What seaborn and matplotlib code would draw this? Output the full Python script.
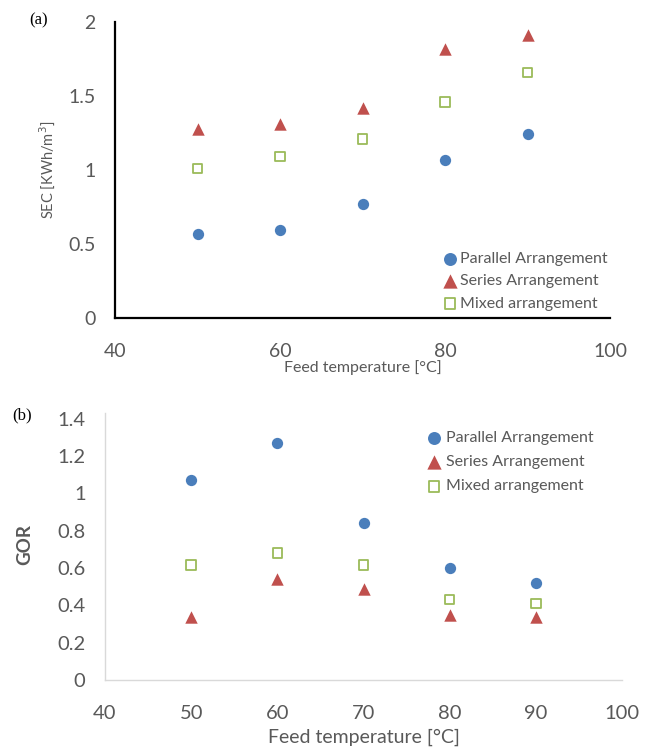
import matplotlib
matplotlib.use("Agg")
import matplotlib.pyplot as plt
import seaborn as sns
import pandas as pd

# ---- data ----
temps = [50, 60, 70, 80, 90]
series_names = ["Parallel Arrangement", "Series Arrangement", "Mixed arrangement"]

sec_parallel = [0.57, 0.595, 0.77, 1.07, 1.24]
sec_series = [1.28, 1.31, 1.42, 1.82, 1.91]
sec_mixed = [1.01, 1.09, 1.21, 1.46, 1.66]

gor_parallel = [1.07, 1.27, 0.84, 0.60, 0.52]
gor_series = [0.34, 0.54, 0.49, 0.35, 0.34]
gor_mixed = [0.615, 0.68, 0.615, 0.43, 0.41]

xticks_a = [40, 60, 80, 100]
yticks_a = [0, 0.5, 1, 1.5, 2]
xticks_b = [40, 50, 60, 70, 80, 90, 100]
yticks_b = [0, 0.2, 0.4, 0.6, 0.8, 1, 1.2, 1.4]

# ---- style ----
sns.set_theme(style="white")
plt.rcParams["font.family"] = ["Lato", "DejaVu Sans"]

BLUE = "#4A7EBB"
RED = "#C0504D"
GREEN = "#9BBB59"
GRAY = "#595959"

fig = plt.figure(figsize=(6.49, 7.47), dpi=100)
W, H = 649, 747

def axes_px(l, t, r, b):
    return fig.add_axes([l / W, 1 - b / H, (r - l) / W, (b - t) / H])

ax_a = axes_px(115, 22, 610, 318)
ax_b = axes_px(105, 413, 622, 680)

def draw(ax, vals):
    df = pd.DataFrame({"T": temps * 3,
                       "v": vals[0] + vals[1] + vals[2],
                       "s": [series_names[0]] * 5 + [series_names[1]] * 5 + [series_names[2]] * 5})
    d0 = df[df.s == series_names[0]]
    d1 = df[df.s == series_names[1]]
    d2 = df[df.s == series_names[2]]
    sns.scatterplot(data=d0, x="T", y="v", ax=ax, marker="o", s=66, color=BLUE,
                    edgecolor=BLUE, linewidth=0, label=series_names[0], zorder=3)
    sns.scatterplot(data=d1, x="T", y="v", ax=ax, marker="^", s=80, color=RED,
                    edgecolor=RED, linewidth=0, label=series_names[1], zorder=3)
    sns.scatterplot(data=d2, x="T", y="v", ax=ax, marker="s", s=46, facecolor="none",
                    edgecolor=GREEN, linewidth=1.3, label=series_names[2], zorder=3)

draw(ax_a, [sec_parallel, sec_series, sec_mixed])
draw(ax_b, [gor_parallel, gor_series, gor_mixed])

# ---- panel a ----
ax_a.set_xlim(40, 100)
ax_a.set_ylim(0, 2)
ax_a.set_xticks(xticks_a)
ax_a.set_yticks(yticks_a)
ax_a.set_yticklabels(["0", "0.5", "1", "1.5", "2"])
for s in ["top", "right"]:
    ax_a.spines[s].set_visible(False)
for s in ["left", "bottom"]:
    ax_a.spines[s].set_color("black")
    ax_a.spines[s].set_linewidth(1.6)
ax_a.tick_params(axis="x", length=0, pad=18, labelsize=14, labelcolor=GRAY)
ax_a.tick_params(axis="y", length=0, pad=14, labelsize=14, labelcolor=GRAY)
ax_a.set_xlabel("Feed temperature [°C]", fontsize=11.5, color=GRAY)
ax_a.xaxis.set_label_coords(0.5, -0.166)
ax_a.xaxis.label.set_va("center")
ax_a.set_ylabel("SEC [KWh/m$^3$]", fontsize=10.5, color=GRAY)
ax_a.yaxis.set_label_coords(-0.137, 0.5)
ax_a.yaxis.label.set_va("center")
ax_a.legend(loc="upper left", bbox_to_anchor=(442 / W, 1 - 252 / H), bbox_transform=fig.transFigure,
            frameon=False, fontsize=11.5, handlelength=1.0, handletextpad=0.1,
            borderpad=0, borderaxespad=0, labelspacing=0.5, labelcolor=GRAY, markerscale=1.15)

# ---- panel b ----
ax_b.set_xlim(40, 100)
ax_b.set_ylim(0, 1.43)
ax_b.set_xticks(xticks_b)
ax_b.set_yticks(yticks_b)
ax_b.set_yticklabels(["0", "0.2", "0.4", "0.6", "0.8", "1", "1.2", "1.4"])
for s in ["top", "right"]:
    ax_b.spines[s].set_visible(False)
for s in ["left", "bottom"]:
    ax_b.spines[s].set_color("#D9D9D9")
    ax_b.spines[s].set_linewidth(1.0)
ax_b.tick_params(axis="x", length=0, pad=18, labelsize=14.5, labelcolor=GRAY)
ax_b.tick_params(axis="y", length=0, pad=14, labelsize=14.5, labelcolor=GRAY)
ax_b.set_xlabel("Feed temperature [°C]", fontsize=14, color=GRAY)
ax_b.xaxis.set_label_coords(0.5, -0.214)
ax_b.xaxis.label.set_va("center")
ax_b.set_ylabel("GOR", fontsize=13.5, color=GRAY, fontweight="bold")
ax_b.yaxis.set_label_coords(-0.155, 0.506)
ax_b.yaxis.label.set_va("center")
ax_b.legend(loc="upper left", bbox_to_anchor=(426 / W, 1 - 431 / H), bbox_transform=fig.transFigure,
            frameon=False, fontsize=11.5, handlelength=1.0, handletextpad=0.25,
            borderpad=0, borderaxespad=0, labelspacing=0.62, labelcolor=GRAY, markerscale=1.15)

# panel tags
fig.text(29 / W, 1 - 20 / H, "(a)", family=["Liberation Serif"], fontsize=12, color="black", va="center")
fig.text(12 / W, 1 - 415 / H, "(b)", family=["Liberation Serif"], fontsize=12, color="black", va="center")

fig.savefig("out.png", dpi=100)
